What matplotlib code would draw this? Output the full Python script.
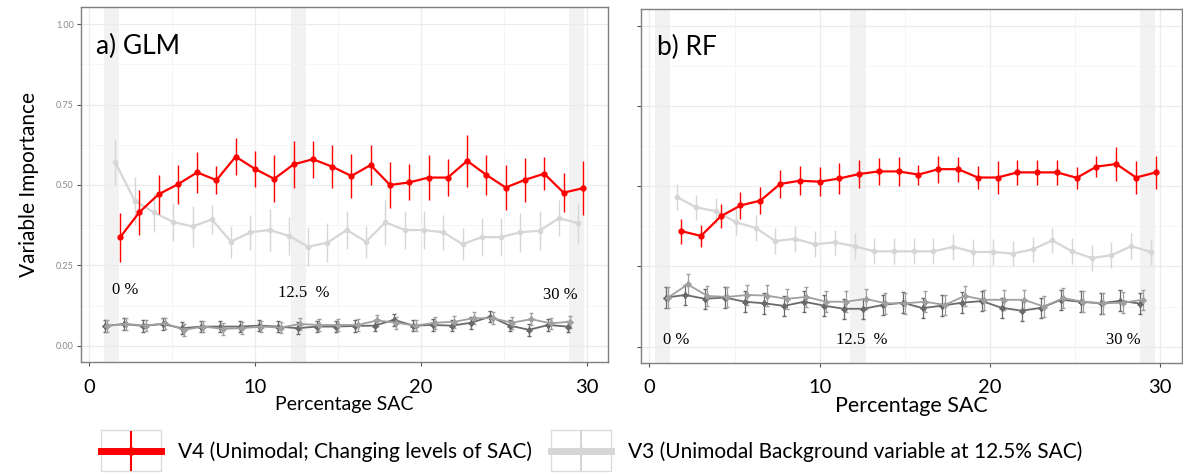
import numpy as np
import matplotlib
matplotlib.use("Agg")
import matplotlib.pyplot as plt
from matplotlib.container import ErrorbarContainer
from matplotlib.legend_handler import HandlerErrorbar
from matplotlib.patches import Rectangle

plt.rcParams['font.family'] = ['Lato', 'DejaVu Sans']

# SAC levels (x positions of the V4 points)
sac = [1.87, 3.03, 4.19, 5.35, 6.52, 7.68, 8.84, 10.0, 11.16, 12.33, 13.49, 14.65, 15.81,
       16.97, 18.14, 19.3, 20.46, 21.62, 22.79, 23.95, 25.11, 26.27, 27.43, 28.6, 29.76]

# a) GLM
glm_v4 = [0.337, 0.415, 0.471, 0.502, 0.539, 0.515, 0.588, 0.550, 0.519, 0.564, 0.580, 0.557, 0.528,
          0.562, 0.500, 0.508, 0.523, 0.523, 0.575, 0.531, 0.492, 0.516, 0.535, 0.476, 0.490]
glm_v4_se = [0.075, 0.070, 0.060, 0.060, 0.064, 0.044, 0.057, 0.057, 0.073, 0.073, 0.058, 0.066, 0.067,
             0.062, 0.070, 0.056, 0.070, 0.058, 0.080, 0.063, 0.070, 0.068, 0.052, 0.061, 0.084]
glm_v3 = [0.570, 0.451, 0.415, 0.385, 0.371, 0.393, 0.324, 0.353, 0.360, 0.342, 0.308, 0.321, 0.360,
          0.324, 0.384, 0.360, 0.360, 0.353, 0.316, 0.338, 0.338, 0.353, 0.358, 0.397, 0.381]
glm_v3_se = [0.070, 0.075, 0.060, 0.060, 0.065, 0.045, 0.050, 0.055, 0.065, 0.060, 0.060, 0.060, 0.060,
             0.050, 0.070, 0.060, 0.060, 0.055, 0.050, 0.060, 0.060, 0.060, 0.060, 0.055, 0.060]
glm_v1 = [0.062, 0.068, 0.063, 0.070, 0.050, 0.060, 0.053, 0.055, 0.060, 0.057, 0.068, 0.065, 0.065,
          0.065, 0.079, 0.072, 0.063, 0.072, 0.075, 0.086, 0.086, 0.072, 0.083, 0.070, 0.075]
glm_v2 = [0.062, 0.068, 0.062, 0.068, 0.055, 0.060, 0.060, 0.060, 0.063, 0.060, 0.055, 0.060, 0.060,
          0.062, 0.063, 0.081, 0.063, 0.065, 0.063, 0.072, 0.091, 0.063, 0.050, 0.065, 0.060]
glm_low_se = 0.018

# b) RF
rf_v4 = [0.360, 0.345, 0.406, 0.440, 0.455, 0.507, 0.517, 0.514, 0.524, 0.538, 0.546, 0.546, 0.536,
         0.553, 0.553, 0.527, 0.527, 0.543, 0.543, 0.543, 0.526, 0.561, 0.569, 0.527, 0.543]
rf_v4_se = [0.039, 0.033, 0.037, 0.042, 0.041, 0.043, 0.046, 0.045, 0.048, 0.043, 0.043, 0.046, 0.031,
            0.042, 0.039, 0.037, 0.050, 0.038, 0.038, 0.040, 0.034, 0.032, 0.053, 0.052, 0.052]
rf_v3 = [0.467, 0.434, 0.422, 0.388, 0.370, 0.329, 0.336, 0.319, 0.325, 0.313, 0.297, 0.297, 0.297,
         0.297, 0.311, 0.295, 0.295, 0.290, 0.303, 0.331, 0.297, 0.276, 0.285, 0.313, 0.295]
rf_v3_se = 0.04
rf_v1 = [0.153, 0.194, 0.158, 0.155, 0.161, 0.159, 0.149, 0.155, 0.140, 0.140, 0.149, 0.135, 0.135,
         0.140, 0.130, 0.158, 0.146, 0.146, 0.146, 0.125, 0.151, 0.140, 0.135, 0.137, 0.146]
rf_v2 = [0.153, 0.161, 0.149, 0.153, 0.140, 0.135, 0.127, 0.140, 0.128, 0.118, 0.118, 0.130, 0.137,
         0.120, 0.128, 0.137, 0.142, 0.121, 0.112, 0.121, 0.146, 0.140, 0.135, 0.143, 0.134]
rf_low_se = 0.032

labels = ["V4 (Unimodal; Changing levels of SAC)",
          "V3 (Unimodal Background variable at 12.5% SAC)"]
band_a = [(0.92, 1.83), (12.2, 13.1), (28.9, 29.8)]
band_b = [(0.35, 1.23), (11.8, 12.7), (28.85, 29.7)]
pct_labels = ["0 %", "12.5  %", "30 %"]
pct_pos_a = [(1.4, 0.174), (11.4, 0.165), (27.35, 0.158)]
pct_pos_b = [(0.8, 0.022), (10.95, 0.022), (26.8, 0.022)]

RED = '#ff0000'
LIGHT = '#d6d6d6'
MID = '#a0a0a0'
DARK = '#6a6a6a'
dodge = {'v4': 0.0, 'v3': -0.28, 'v1': -0.78, 'v2': -0.92}


class BoxedErrorbar(HandlerErrorbar):
    # ggplot-style legend key: errorbar glyph inside a light grey box
    def create_artists(self, legend, orig_handle, xdescent, ydescent, width, height,
                       fontsize, trans):
        arts = super().create_artists(legend, orig_handle, xdescent, ydescent, width, height,
                                      fontsize, trans)
        boxh = 1.95 * fontsize
        rect = Rectangle((-xdescent, -ydescent + height / 2 - boxh / 2), width, boxh,
                         fill=False, ec='#dcdcdc', lw=1.0, transform=trans)
        return [rect] + list(arts)


def panel(ax, title, v4, v4se, v3, v3se, v1, v2, lowse, bands, pct_pos):
    x = np.array(sac)
    for lo, hi in bands:
        ax.axvspan(lo, hi, color='#f2f2f2', zorder=0.5, lw=0)
    ax.errorbar(x + dodge['v2'], v2, yerr=lowse, color=DARK, lw=1.3, elinewidth=0.9,
                marker='P', ms=3.5, capsize=1.5, zorder=3)
    ax.errorbar(x + dodge['v1'], v1, yerr=lowse, color=MID, lw=1.3, elinewidth=0.9,
                marker='P', ms=3.5, capsize=1.5, zorder=3)
    ax.errorbar(x + dodge['v3'], v3, yerr=v3se, color=LIGHT, lw=1.6, elinewidth=1.0,
                marker='o', ms=3, zorder=3)
    ax.errorbar(x + dodge['v4'], v4, yerr=v4se, color=RED, lw=1.6, elinewidth=1.0,
                marker='o', ms=3.5, zorder=4)
    for txt, (px, py) in zip(pct_labels, pct_pos):
        ax.text(px, py, txt, family='Liberation Serif', fontsize=12, va='center', ha='left', zorder=5)
    ax.text(0.03, 0.89, title, transform=ax.transAxes, fontsize=19, va='center', ha='left')
    ax.set_xlim(-0.5, 31.27)
    ax.set_ylim(-0.05, 1.053)
    ax.set_xticks([0, 10, 20, 30])
    ax.set_xticks([5, 15, 25], minor=True)
    ax.set_yticks([0, 0.25, 0.5, 0.75, 1.0])
    ax.set_yticks([0.125, 0.375, 0.625, 0.875], minor=True)
    ax.grid(True, which='major', color='#ebebeb', lw=0.9, zorder=0)
    ax.grid(True, which='minor', color='#f4f4f4', lw=0.6, zorder=0)
    ax.set_axisbelow(True)
    for s in ax.spines.values():
        s.set_color('#7f7f7f')
        s.set_linewidth(1.0)
    ax.tick_params(axis='x', which='major', length=3, color='#555555', labelsize=14.5, pad=9)
    ax.tick_params(axis='y', which='major', length=3, color='#555555', labelsize=6.5,
                   labelcolor='#8a8a8a', pad=2)
    ax.tick_params(which='minor', length=0)
    ax.set_xlabel("Percentage SAC", fontsize=14, labelpad=0)


fig = plt.figure(figsize=(11.83, 4.73), dpi=100)
ax1 = fig.add_axes([0.0682, 0.2347, 0.4457, 0.7505])
ax2 = fig.add_axes([0.5418, 0.2332, 0.4570, 0.7484])

panel(ax1, "a) GLM", glm_v4, glm_v4_se, glm_v3, glm_v3_se, glm_v1, glm_v2, glm_low_se, band_a, pct_pos_a)
panel(ax2, "b) RF", rf_v4, rf_v4_se, rf_v3, rf_v3_se, rf_v1, rf_v2, rf_low_se, band_b, pct_pos_b)
ax2.set_yticklabels([])
ax2.xaxis.label.set_size(15.5)
ax1.set_ylabel("Variable Importance", fontsize=15, labelpad=12)

# legend handles
h4 = ax1.errorbar([np.nan], [np.nan], yerr=[np.nan], color=RED, lw=5, elinewidth=1.5, marker='o', ms=5)
h3 = ax1.errorbar([np.nan], [np.nan], yerr=[np.nan], color=LIGHT, lw=5, elinewidth=1.5, marker='o', ms=5)
fig.legend([h4, h3], labels, loc='center', bbox_to_anchor=(0.5, 0.045), ncol=2, frameon=False,
           fontsize=15, handlelength=2.9, handletextpad=0.8, columnspacing=0.9,
           handler_map={ErrorbarContainer: BoxedErrorbar(yerr_size=0.95)})

fig.savefig("out.png", dpi=100)
